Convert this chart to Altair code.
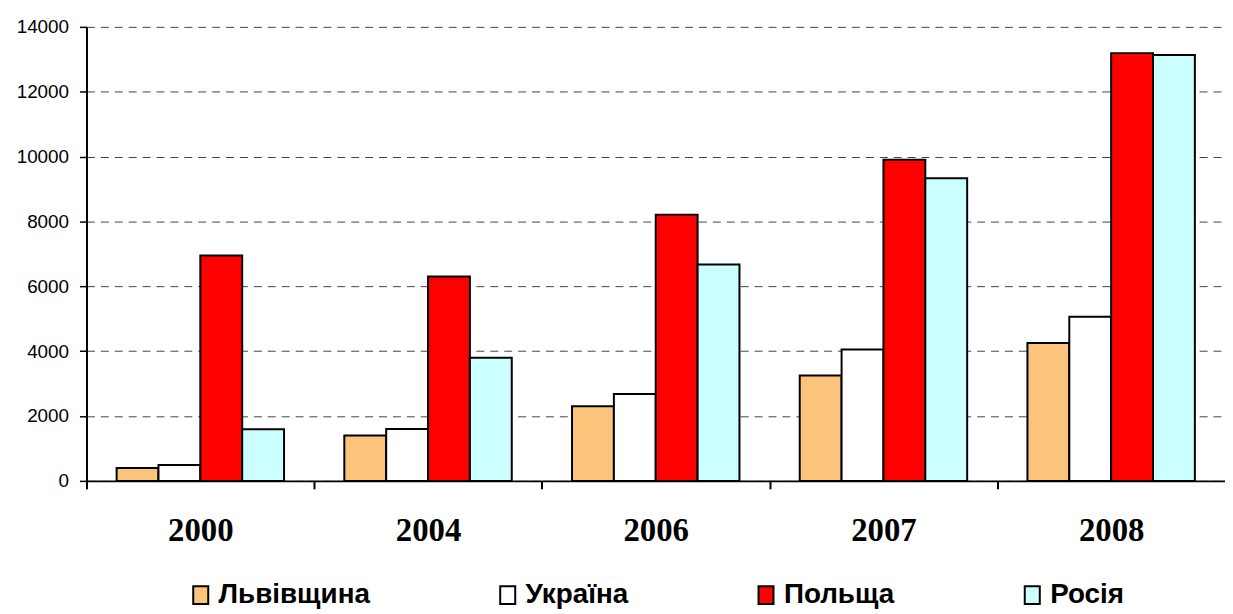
import altair as alt
import pandas as pd

years = ["2000", "2004", "2006", "2007", "2008"]
series = ["Львівщина", "Україна", "Польща", "Росія"]
lviv = [400, 1400, 2300, 3250, 4250]
ukraine = [490, 1600, 2680, 4050, 5060]
poland = [6950, 6300, 8210, 9900, 13190]
russia = [1590, 3800, 6670, 9330, 13130]
colors = ["#FBC47A", "#FFFFFF", "#FF0000", "#CCFFFF"]
y_ticks = [0, 2000, 4000, 6000, 8000, 10000, 12000, 14000]

rows = []
for name, vals in zip(series, [lviv, ukraine, poland, russia]):
    for yr, v in zip(years, vals):
        rows.append({"year": yr, "series": name, "value": v})
df = pd.DataFrame(rows)

W = 1146
H = 457
step = W / len(years)

chart = alt.Chart(df).mark_bar(stroke="black", strokeWidth=2).encode(
    x=alt.X("year:N", sort=years, title=None,
            scale=alt.Scale(paddingInner=0, paddingOuter=0),
            axis=alt.Axis(labelAngle=0, labelFont="Liberation Serif", labelFontWeight="bold",
                          labelFontSize=33, labelColor="black", labelPadding=26,
                          tickSize=8, tickColor="black", tickWidth=2,
                          tickOffset=-step / 2, labelOffset=step / 2,
                          domainColor="black", domainWidth=2, grid=False)),
    xOffset=alt.XOffset("series:N", sort=series,
                        scale=alt.Scale(paddingInner=0, paddingOuter=0.72)),
    y=alt.Y("value:Q", title=None,
            scale=alt.Scale(domain=[0, 14000], nice=False),
            axis=alt.Axis(values=y_ticks, format="d", labelFont="Liberation Sans", labelFontSize=19,
                          labelColor="black", labelPadding=11, tickSize=7, tickColor="black",
                          tickWidth=1.5, domainColor="black", domainWidth=2,
                          grid=True, gridColor="#444444", gridDash=[8, 6], gridWidth=1)),
    color=alt.Color("series:N", sort=series,
                    scale=alt.Scale(domain=series, range=colors),
                    legend=alt.Legend(title=None, orient="none", direction="horizontal",
                                      columns=4, legendX=101, legendY=558,
                                      symbolType="M-0.84,-1H0.84V1H-0.84Z", symbolSize=324,
                                      symbolStrokeColor="black", symbolStrokeWidth=2,
                                      labelFont="Liberation Sans", labelFontWeight="bold",
                                      labelFontSize=28, labelColor="black", labelOffset=4,
                                      columnPadding=124, labelLimit=300)),
).properties(
    width=W, height=H,
    autosize=alt.AutoSizeParams(type="none"),
    padding={"left": 79, "top": 17, "right": 0, "bottom": 130},
).configure_view(stroke=None)

chart.save("out.html", embed_options={"renderer": "svg", "actions": False})
